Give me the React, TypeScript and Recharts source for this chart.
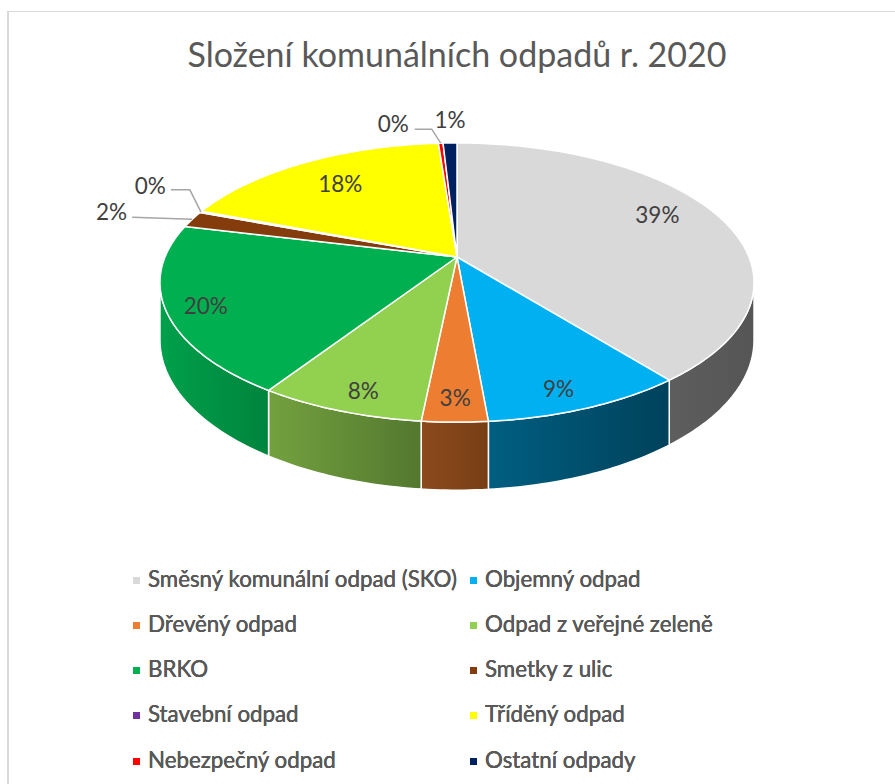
import React from 'react';
import { PieChart, Pie, Legend } from 'recharts';

// ---------- data ----------
const categories: string[] = [
  'Směsný komunální odpad (SKO)',
  'Objemný odpad',
  'Dřevěný odpad',
  'Odpad z veřejné zeleně',
  'BRKO',
  'Smetky z ulic',
  'Stavební odpad',
  'Tříděný odpad',
  'Nebezpečný odpad',
  'Ostatní odpady',
];
const shares: number[] = [39.3, 9.3, 3.0, 7.6, 19.6, 1.9, 0.2, 17.9, 0.3, 0.9];
const chartTitle = 'Složení komunálních odpadů r. 2020';

// ---------- style ----------
const topColors = ['#D9D9D9', '#00B0F0', '#ED7D31', '#92D050', '#00B050', '#843C0C', '#7030A0', '#FFFF00', '#FF0000', '#002060'];
const wallLight = ['#5E5E5E', '#005E80', '#8C4A1D', '#73A13E', '#00A04B', '#5E2A08', '#4E2070', '#B3B300', '#B30000', '#001640'];
const wallDark = ['#555555', '#00425C', '#783F14', '#53782F', '#00843D', '#4A2006', '#3A1654', '#8C8C00', '#8C0000', '#000E2A'];

const FONT = 'Lato, "Open Sans", sans-serif';
const PERSP = 0.183; // perspective factor
const TILT = 0.462; // vertical squash of the disk
const DEPTH = 55.6; // wall height
const EDGE = (Math.asin(PERSP) * 180) / Math.PI;

// small nudges for inside labels (style only)
const insideNudge: Record<number, number[]> = {
  0: [-5, -9],
  1: [-7, 6],
  2: [0, 3],
  3: [4, 6],
  4: [-15, 5],
  7: [1, 0],
};

// outside label layout (offsets from the rim point at mid angle)
const outsideLabels: Record<number, { line: number[][]; tx: number; ty: number; anchor: 'end' | 'middle' }> = {
  5: { line: [[-60, -2]], tx: -65, ty: -8, anchor: 'end' },
  6: { line: [[-11, -22], [-30, -22]], tx: -35, ty: -26, anchor: 'end' },
  8: { line: [[-9, -14], [-26, -14]], tx: -32, ty: -19.5, anchor: 'end' },
  9: { line: [], tx: 0, ty: -23.5, anchor: 'middle' },
};

const pieData = categories.map((name, i) => ({ name, value: shares[i] }));

function proj(cx: number, cy: number, R: number, r: number, deg: number) {
  const a = (deg * Math.PI) / 180;
  const c = Math.cos(a);
  const s = Math.sin(a);
  const sc = 1 / (1 + PERSP * s * r);
  return { x: cx + R * r * c * sc, y: cy - R * TILT * r * s * sc, sc };
}

function arcPoints(cx: number, cy: number, R: number, a1: number, a2: number) {
  const pts: { x: number; y: number; sc: number }[] = [];
  const n = Math.max(2, Math.ceil(Math.abs(a2 - a1) / 1) + 1);
  for (let k = 0; k < n; k++) {
    const a = a1 + ((a2 - a1) * k) / (n - 1);
    pts.push(proj(cx, cy, R, 1, a));
  }
  return pts;
}

const renderWall = (props: any) => {
  const { cx, cy, outerRadius, startAngle, endAngle, index } = props;
  const lo = Math.max(Math.min(startAngle, endAngle), -180 + EDGE);
  const hi = Math.min(Math.max(startAngle, endAngle), -EDGE);
  if (lo >= hi) return <g key={`w${index}`} />;
  const top = arcPoints(cx, cy, outerRadius, lo, hi);
  const bottom = top.map((p) => ({ x: p.x, y: p.y + DEPTH * p.sc })).reverse();
  const d =
    'M' +
    top.map((p) => `${p.x.toFixed(2)},${p.y.toFixed(2)}`).join(' L') +
    ' L' +
    bottom.map((p) => `${p.x.toFixed(2)},${p.y.toFixed(2)}`).join(' L') +
    ' Z';
  const gid = `wallGrad${index}`;
  return (
    <g key={`w${index}`}>
      <defs>
        <linearGradient id={gid} x1="0" y1="0" x2="1" y2="0">
          <stop offset="0%" stopColor={wallLight[index]} />
          <stop offset="100%" stopColor={wallDark[index]} />
        </linearGradient>
      </defs>
      <path d={d} fill={`url(#${gid})`} stroke="#FFFFFF" strokeWidth={1.5} strokeLinejoin="round" />
    </g>
  );
};

const renderTop = (props: any) => {
  const { cx, cy, outerRadius, startAngle, endAngle, index } = props;
  const pts = arcPoints(cx, cy, outerRadius, startAngle, endAngle);
  const d =
    `M${cx},${cy} L` + pts.map((p) => `${p.x.toFixed(2)},${p.y.toFixed(2)}`).join(' L') + ' Z';
  return (
    <path
      key={`t${index}`}
      d={d}
      fill={topColors[index]}
      stroke="#FFFFFF"
      strokeWidth={1.5}
      strokeLinejoin="round"
    />
  );
};

const renderText = (props: any) => {
  const { cx, cy, outerRadius, midAngle, percent, index } = props;
  const txt = `${Math.round(percent * 100)}%`;
  const out = outsideLabels[index];
  if (out) {
    const a = proj(cx, cy, outerRadius, 1, midAngle);
    const pts = [[a.x, a.y], ...out.line.map(([dx, dy]) => [a.x + dx, a.y + dy])];
    return (
      <g key={`l${index}`}>
        {out.line.length > 0 && (
          <polyline
            points={pts.map((p) => p.join(',')).join(' ')}
            fill="none"
            stroke="#A6A6A6"
            strokeWidth={1.5}
          />
        )}
        <text
          x={a.x + out.tx}
          y={a.y + out.ty}
          textAnchor={out.anchor}
          dominantBaseline="central"
          fill="#404040"
          fontSize={22.5}
          fontFamily={FONT}
        >
          {txt}
        </text>
      </g>
    );
  }
  const s = Math.sin((midAngle * Math.PI) / 180);
  const r = 0.8 - 0.06 * s;
  const p = proj(cx, cy, outerRadius, r, midAngle);
  const nd = insideNudge[index] || [0, 0];
  return (
    <text
      key={`l${index}`}
      x={p.x + nd[0]}
      y={p.y + nd[1]}
      textAnchor="middle"
      dominantBaseline="central"
      fill="#404040"
      fontSize={22.5}
      fontFamily={FONT}
    >
      {txt}
    </text>
  );
};

const renderLegend = (props: any) => {
  const payload = [...(props.payload || [])].sort(
    (a: any, b: any) => categories.indexOf(a.value) - categories.indexOf(b.value)
  );
  return (
    <div style={{ position: 'relative', width: 895, height: 236 }}>
      {payload.map((item: any) => {
        const i = categories.indexOf(item.value);
        const col = i % 2;
        const row = Math.floor(i / 2);
        const yc = 30 + row * 45.25;
        const x = col === 0 ? 133 : 470;
        return (
          <div
            key={item.value}
            style={{
              position: 'absolute',
              left: x,
              top: yc - 15,
              height: 30,
              display: 'flex',
              alignItems: 'center',
              whiteSpace: 'nowrap',
            }}
          >
            <span
              style={{
                width: 7,
                height: 7,
                background: topColors[i],
                display: 'inline-block',
                marginRight: 8,
                position: 'relative',
                top: 2,
              }}
            />
            <span style={{ fontFamily: FONT, fontSize: 22.3, color: '#595959' }}>{item.value}</span>
          </div>
        );
      })}
    </div>
  );
};

export default function App() {
  return (
    <div style={{ position: 'relative', width: 895, height: 784, background: '#FFFFFF', overflow: 'hidden' }}>
      <style>{'html,body{margin:0;padding:0;overflow:hidden;background:#fff}'}</style>
      <div
        style={{
          position: 'absolute',
          left: 7,
          top: 11,
          right: 0,
          bottom: 0,
          borderLeft: '2px solid #D9D9D9',
          borderTop: '1px solid #D9D9D9',
        }}
      />
      <div
        style={{
          position: 'absolute',
          left: 157,
          width: 600,
          top: 33,
          textAlign: 'center',
          fontFamily: FONT,
          fontSize: 34,
          color: '#595959',
          whiteSpace: 'nowrap',
        }}
      >
        {chartTitle}
      </div>
      <div style={{ position: 'absolute', left: 0, top: 0 }}>
        <PieChart width={895} height={784} margin={{ top: 0, right: 0, bottom: 0, left: 0 }}>
          <Pie
            data={pieData}
            dataKey="value"
            nameKey="name"
            cx={457}
            cy={257}
            outerRadius={292}
            startAngle={90}
            endAngle={-270}
            fill="none"
            stroke="none"
            legendType="none"
            isAnimationActive={false}
            label={renderWall}
            labelLine={false}
          />
          <Pie
            data={pieData}
            dataKey="value"
            nameKey="name"
            cx={457}
            cy={257}
            outerRadius={292}
            startAngle={90}
            endAngle={-270}
            fill="none"
            stroke="none"
            legendType="none"
            isAnimationActive={false}
            label={renderTop}
            labelLine={false}
          />
          <Pie
            data={pieData}
            dataKey="value"
            nameKey="name"
            cx={457}
            cy={257}
            outerRadius={292}
            startAngle={90}
            endAngle={-270}
            fill="none"
            stroke="none"
            legendType="square"
            isAnimationActive={false}
            label={renderText}
            labelLine={false}
          />
          <Legend
            content={renderLegend}
            wrapperStyle={{ position: 'absolute', left: 0, top: 548, width: 895, height: 236 }}
          />
        </PieChart>
      </div>
    </div>
  );
}
